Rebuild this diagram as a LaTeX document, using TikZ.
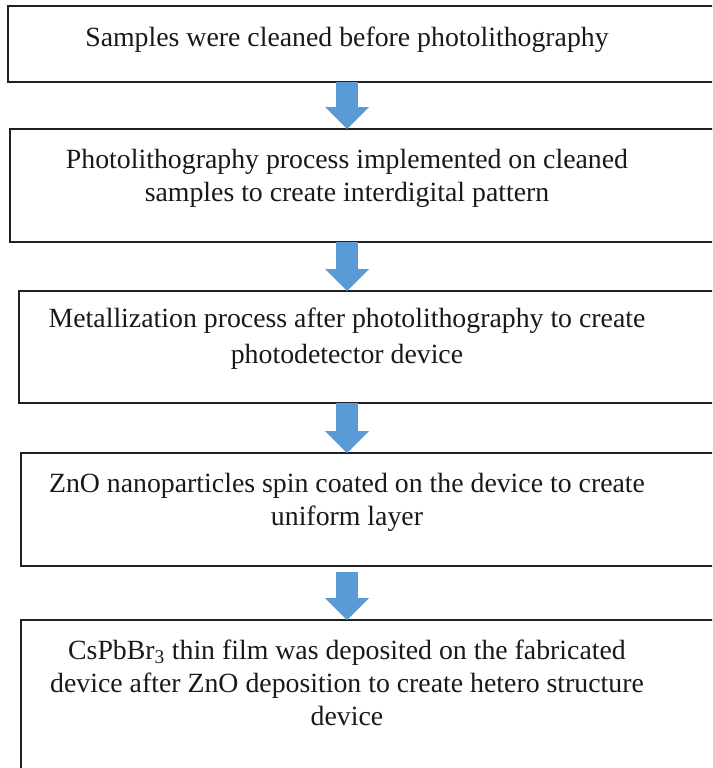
\documentclass[tikz,border=0pt]{standalone}
\usepackage{fontspec}
\setmainfont{Liberation Serif}
\usetikzlibrary{arrows.meta}
\definecolor{flowblue}{HTML}{5B9BD5}
\definecolor{edge}{HTML}{202020}
\tikzset{
  stepbox/.style={draw=edge, line width=1.3pt, rectangle, inner sep=0pt, outer sep=0pt, anchor=north west, minimum width=740pt},
  steptext/.style={anchor=base, align=center, inner sep=0pt, font=\fontsize{27.8pt}{33pt}\selectfont, text=black!90},
  flow/.style={draw=flowblue, line width=22pt, -{Triangle[width=44pt,length=22pt,line width=0pt]}}
}
\begin{document}
\begin{tikzpicture}[x=1pt,y=1pt]
\useasboundingbox (0,0) rectangle (712,-768);
\clip (0,0) rectangle (712,-768);
\node[stepbox, minimum height=76pt] (b1) at (8,-6) {};
\node[stepbox, minimum height=113pt] (b2) at (10,-129) {};
\node[stepbox, minimum height=112pt] (b3) at (19,-291) {};
\node[stepbox, minimum height=113pt] (b4) at (21,-453) {};
\node[stepbox, minimum height=200pt] (b5) at (21,-620) {};
\node[steptext] (t1) at (347,-47) {Samples were cleaned before photolithography};
\node[steptext] (t2) at (347,-201) {Photolithography process implemented on cleaned\\samples to create interdigital pattern};
\node[steptext] (t3) at (347,-363) {Metallization process after photolithography to create\\[3pt]photodetector device};
\node[steptext] (t4) at (347,-525) {ZnO nanoparticles spin coated on the device to create\\uniform layer};
\node[steptext] (t5) at (347,-725) {CsPbBr\textsubscript{3} thin film was deposited on the fabricated\\device after ZnO deposition to create hetero structure\\device};
\draw[flow] (b1.south -| t1) -- (b2.north -| t1);
\draw[flow] (b2.south -| t1) -- (b3.north -| t1);
\draw[flow] (b3.south -| t1) -- (b4.north -| t1);
\draw[flow, shorten <=6pt] (b4.south -| t1) -- (b5.north -| t1);
\end{tikzpicture}
\end{document}
